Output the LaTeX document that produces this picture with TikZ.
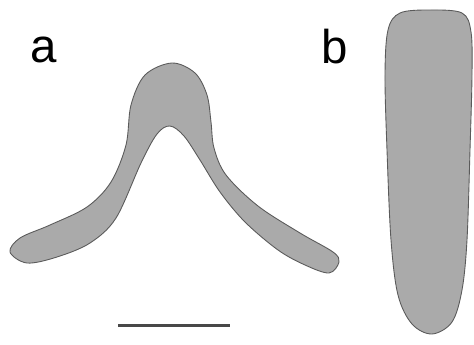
\documentclass[tikz,border=0pt]{standalone}
\usepackage{fontspec}
\setmainfont{Liberation Sans}
\usepackage{xcolor}
\usepackage{tikz}
\usetikzlibrary{positioning}

\definecolor{cellgray}{RGB}{170,170,170}
\definecolor{edgegray}{RGB}{90,90,90}

\begin{document}
\begin{tikzpicture}[x=0.02cm, y=-0.02cm,
    cell/.style={fill=cellgray, draw=edgegray, line width=0.5pt},
    panel/.style={anchor=base west, inner sep=0pt, font=\fontsize{27}{30}\selectfont}]
      \useasboundingbox (0,0) rectangle (474,345);

      % bent cell
      \draw[cell] plot[smooth cycle, tension=0.55] coordinates {
        (172,63) (195,73) (207,95) (211,122) (214,148) (226,175)
        (258,206) (300,233) (333,252) (339,262) (329,273)
        (305,265) (278,250) (245,222) (220,192) (200,160) (184,136)
        (170,126) (157,134) (141,163) (116,218) (90,243) (57,257)
        (27,263) (10,252) (20,238) (50,225) (87,207) (111,182)
        (126,145) (131,105) (145,75)};

      % straight cell
      \draw[cell] plot[smooth cycle, tension=0.55] coordinates {
        (430,10) (462,13) (471,32) (472,75) (470,150) (467,240)
        (462,290) (452,322) (432,334) (412,324) (398,295) (391,240)
        (387,150) (385,75) (388,30) (400,13)};

      % scale bar
      \draw[edgegray!80!black, line width=1.4pt] (118,325.5) -- (230,325.5);

      \node[panel] (lbla) at (30,62) {a};
      \node[panel] (lblb) at (321,63) {b};
    \end{tikzpicture}
\end{document}
